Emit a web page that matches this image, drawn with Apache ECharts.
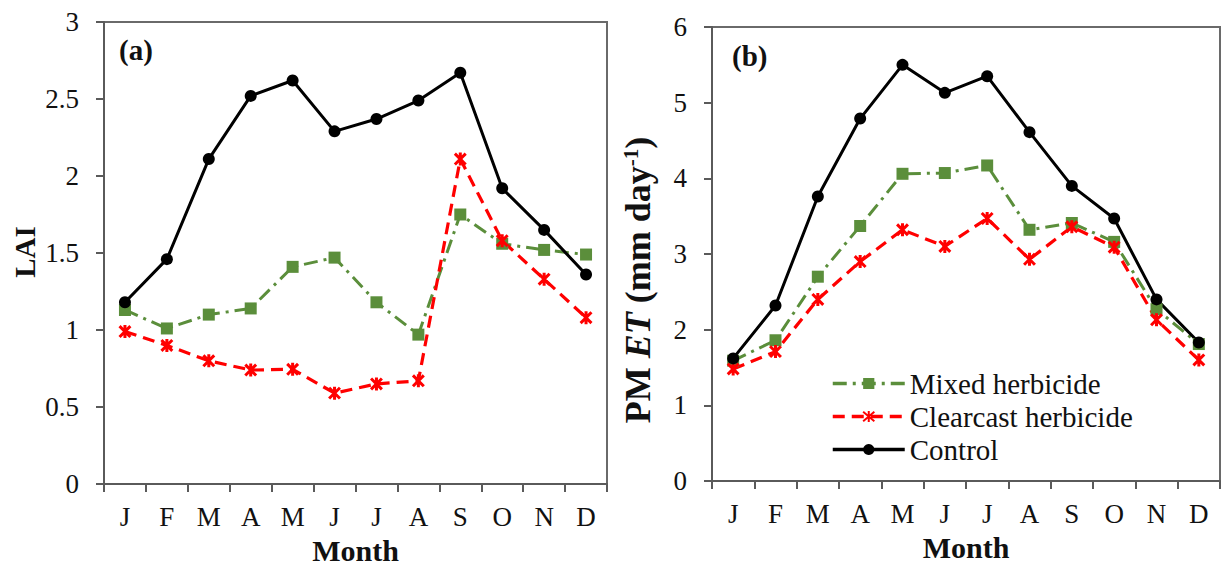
<!DOCTYPE html>
<html>
<head>
<meta charset="utf-8">
<script src="https://cdn.jsdelivr.net/npm/echarts@6/dist/echarts.min.js"></script>
<style>
  html, body { margin: 0; padding: 0; background: #fff; }
  #chart { width: 1221px; height: 568px; }
</style>
</head>
<body>
<div id="chart"></div>
<script>
// Months on the horizontal axis of both panels
const months = ['J', 'F', 'M', 'A', 'M', 'J', 'J', 'A', 'S', 'O', 'N', 'D'];

// Panel (a): leaf area index
const laiControl   = [1.18, 1.46, 2.11, 2.52, 2.62, 2.29, 2.37, 2.49, 2.67, 1.92, 1.65, 1.36];
const laiMixed     = [1.13, 1.01, 1.10, 1.14, 1.41, 1.47, 1.18, 0.97, 1.75, 1.56, 1.52, 1.49];
const laiClearcast = [0.99, 0.90, 0.80, 0.74, 0.745, 0.59, 0.65, 0.67, 2.11, 1.58, 1.33, 1.08];

// Panel (b): Penman-Monteith ET (mm/day)
const etControl   = [1.62, 2.32, 3.76, 4.79, 5.50, 5.13, 5.35, 4.61, 3.90, 3.47, 2.40, 1.83];
const etMixed     = [1.59, 1.86, 2.70, 3.37, 4.06, 4.07, 4.17, 3.32, 3.41, 3.16, 2.27, 1.81];
const etClearcast = [1.48, 1.71, 2.40, 2.90, 3.32, 3.10, 3.47, 2.93, 3.36, 3.09, 2.13, 1.60];

// Axis ranges
const laiAxis = { min: 0, max: 3, interval: 0.5 };
const etAxis  = { min: 0, max: 6, interval: 1 };

const seriesNames = ['Mixed herbicide', 'Clearcast herbicide', 'Control'];

const FONT = "'Liberation Serif', 'Times New Roman', serif";
const AXIS_GREY = '#5a5a5a';
const GREEN = '#5b8e3b';
const RED = '#ff0000';
const STAR = 'path://M0,0 L10,10 M0,10 L10,0 M5,-1 L5,11';

const chart = echarts.init(document.getElementById('chart'), null, { renderer: 'svg' });

function xAxis(gridIndex) {
  return {
    type: 'category', gridIndex, data: months, boundaryGap: true,
    axisLine: { lineStyle: { color: AXIS_GREY, width: 2 } },
    axisTick: { show: true, length: 8, lineStyle: { color: AXIS_GREY, width: 2 } },
    axisLabel: { color: '#111', fontFamily: FONT, fontSize: 27, margin: 19 },
    name: 'Month', nameLocation: 'middle', nameGap: 51,
    nameTextStyle: { color: '#111', fontFamily: FONT, fontSize: 30, fontWeight: 'bold' }
  };
}
function yAxis(gridIndex, range) {
  return {
    type: 'value', gridIndex, min: range.min, max: range.max, interval: range.interval,
    axisLine: { show: true, lineStyle: { color: AXIS_GREY, width: 2 } },
    axisTick: { show: true, length: 8, lineStyle: { color: AXIS_GREY, width: 2 } },
    axisLabel: { color: '#111', fontFamily: FONT, fontSize: 27, margin: 25 },
    splitLine: { show: false }
  };
}
function lineSeries(name, data, idx, style) {
  return Object.assign({
    name, type: 'line', xAxisIndex: idx, yAxisIndex: idx, data,
    symbolKeepAspect: true, z: 3
  }, style);
}
const mixedStyle = {
  symbol: 'rect', symbolSize: 12,
  lineStyle: { color: GREEN, width: 3, type: [14, 6, 3, 6] },
  itemStyle: { color: GREEN }
};
const clearStyle = {
  symbol: STAR, symbolSize: 13,
  lineStyle: { color: RED, width: 3.2, type: [12, 7] },
  itemStyle: { color: RED, borderColor: RED, borderWidth: 3 }
};
const controlStyle = {
  symbol: 'circle', symbolSize: 12,
  lineStyle: { color: '#000', width: 3, type: 'solid' },
  itemStyle: { color: '#000' }
};

chart.setOption({
  animation: false,
  backgroundColor: '#fff',
  grid: [
    { left: 104, top: 22, width: 503, height: 462, containLabel: false, outerBoundsMode: 'none',
      show: true, borderColor: '#6a6a6a', borderWidth: 2 },
    { left: 712, top: 27, width: 508, height: 454, containLabel: false, outerBoundsMode: 'none',
      show: true, borderColor: '#6a6a6a', borderWidth: 2 }
  ],
  xAxis: [xAxis(0), xAxis(1)],
  yAxis: [yAxis(0, laiAxis), yAxis(1, etAxis)],
  legend: {
    data: seriesNames,
    orient: 'vertical', left: 826, top: 364,
    itemWidth: 72, itemHeight: 14, itemGap: 4,
    lineStyle: { width: 3.5 },
    textStyle: { color: '#111', fontFamily: FONT, fontSize: 29 },
    selectedMode: false
  },
  series: [
    lineSeries(seriesNames[0], laiMixed, 0, mixedStyle),
    lineSeries(seriesNames[1], laiClearcast, 0, clearStyle),
    lineSeries(seriesNames[2], laiControl, 0, controlStyle),
    lineSeries(seriesNames[0], etMixed, 1, mixedStyle),
    lineSeries(seriesNames[1], etClearcast, 1, clearStyle),
    lineSeries(seriesNames[2], etControl, 1, controlStyle)
  ],
  graphic: [
    { type: 'text', left: 119, top: 35,
      style: { text: '(a)', font: "bold 29px " + FONT, fill: '#111' } },
    { type: 'text', left: 732, top: 41,
      style: { text: '(b)', font: "bold 29px " + FONT, fill: '#111' } },
    { type: 'text', x: 25, y: 252, rotation: Math.PI / 2,
      style: { text: 'LAI', font: "bold 29px " + FONT, fill: '#111', align: 'center', verticalAlign: 'middle' } },
    { type: 'text', x: 638, y: 280, rotation: Math.PI / 2,
      style: {
        text: '{b|PM }{i|ET}{b| (mm day}{s|-1}{b|)}',
        align: 'center', verticalAlign: 'middle', fill: '#111',
        rich: {
          b: { fontFamily: FONT, fontWeight: 'bold', fontSize: 36, fill: '#111' },
          i: { fontFamily: FONT, fontWeight: 'bold', fontStyle: 'italic', fontSize: 36, fill: '#111' },
          s: { fontFamily: FONT, fontWeight: 'bold', fontSize: 21, fill: '#111', verticalAlign: 'top' }
        }
      } }
  ]
});
</script>
</body>
</html>
